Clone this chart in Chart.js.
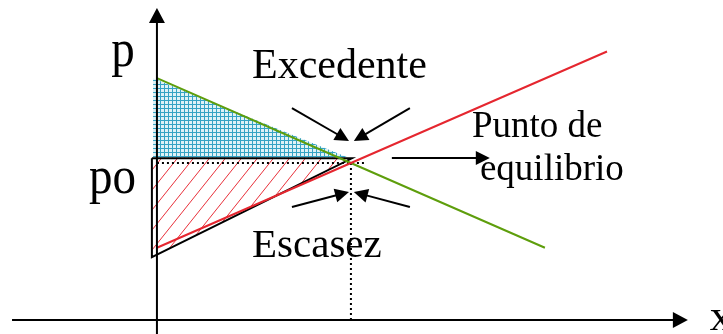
<!DOCTYPE html>
<html>
<head>
<meta charset="utf-8">
<script src="https://cdn.jsdelivr.net/npm/chart.js@4.4.0/dist/chart.umd.min.js"></script>
<style>
  html, body { margin: 0; padding: 0; background: #fff; }
  #wrap { width: 723px; height: 334px; position: relative; }
</style>
</head>
<body>
<div id="wrap"><canvas id="chart"></canvas></div>
<script>
// === Oferta y demanda: excedente / escasez ===

// Curves (x = cantidad, p = precio)
const demandX = [0, 10, 20];
const demandP = [15.4, 10, 4.6];
const supplyX = [0, 10, 23.2];
const supplyP = [4.6, 10, 17.1];

// Equilibrium point
const eqX = 10;
const eqP = 10;

// Shaded areas
const surplusX = [-0.2, -0.2, 9.85, -0.2];
const surplusP = [15.4, 10.35, 10.35, 15.4];
const shortageX = [-0.26, -0.26, 10.05, -0.26];
const shortageP = [10.3, 4.0, 10.3, 10.3];

// Guide lines (dotted)
const guideHX = [0, 10.82];
const guideVP = [0, eqP];

// Annotation arrows [fromX, fromP, toX, toP]
const arrows = [
  [6.96, 13.5, 9.9, 11.4],
  [13.04, 13.5, 10.15, 11.4],
  [6.96, 7.2, 9.9, 8.15],
  [13.04, 7.2, 10.15, 8.15],
  [12.11, 10.32, 17.16, 10.32]
];

// Text labels
const labelText = ['Excedente', 'Escasez', 'Punto de', 'equilibrio', 'p', 'po', 'x'];
const labelX = [4.9, 4.9, 16.24, 16.65, -2.35, -3.5, 28.5];
const labelP = [15.41, 4.01, 11.66, 8.92, 16.18, 8.09, -0.64];

// Axis extents
const X_MIN = -8.09, X_MAX = 29.18;
const Y_MIN = -0.89, Y_MAX = 20.38;
const xAxisFrom = -7.47, xAxisTo = 27.37;
const yAxisTip = 19.87;

// ==============================
// Helpers
// ==============================
const pts = (xs, ys) => xs.map((x, i) => ({ x, y: ys[i] }));

const gridPattern = () => {
  const c = document.createElement('canvas');
  c.width = 4; c.height = 4;
  const g = c.getContext('2d');
  g.fillStyle = '#dff2f7';
  g.fillRect(0, 0, 4, 4);
  g.fillStyle = '#35a3c4';
  g.fillRect(0, 0, 4, 1);
  g.fillRect(0, 0, 1, 4);
  return g.createPattern(c, 'repeat');
};

const hatchPattern = () => {
  const w = 16, h = 20;
  const c = document.createElement('canvas');
  c.width = w; c.height = h;
  const g = c.getContext('2d');
  g.strokeStyle = '#e8303a';
  g.lineWidth = 1;
  g.beginPath();
  g.moveTo(0, h); g.lineTo(w, 0);
  g.moveTo(-w, h); g.lineTo(0, 0);
  g.moveTo(w, h); g.lineTo(2 * w, 0);
  g.stroke();
  return g.createPattern(c, 'repeat');
};

const arrowHead = (ctx, x1, y1, x2, y2, len, half) => {
  const a = Math.atan2(y2 - y1, x2 - x1);
  ctx.beginPath();
  ctx.moveTo(x2, y2);
  ctx.lineTo(x2 - len * Math.cos(a) + half * Math.sin(a), y2 - len * Math.sin(a) - half * Math.cos(a));
  ctx.lineTo(x2 - len * Math.cos(a) - half * Math.sin(a), y2 - len * Math.sin(a) + half * Math.cos(a));
  ctx.closePath();
  ctx.fill();
};

const arrowLine = (ctx, x1, y1, x2, y2, len, half, width) => {
  const a = Math.atan2(y2 - y1, x2 - x1);
  ctx.lineWidth = width;
  ctx.beginPath();
  ctx.moveTo(x1, y1);
  ctx.lineTo(x2 - (len - 1) * Math.cos(a), y2 - (len - 1) * Math.sin(a));
  ctx.stroke();
  arrowHead(ctx, x1, y1, x2, y2, len, half);
};

// ==============================
// Plugin: axes, arrows, labels
// ==============================
const fontFor = ['42px', '41px', '37px', '37px', '47px', '47px', '45px'];
const stretchFor = [1, 1, 1, 1, 1.12, 1.12, 1];

const overlay = {
  id: 'overlay',
  afterDatasetsDraw(chart) {
    const { ctx, scales: { x, y } } = chart;
    ctx.save();
    ctx.strokeStyle = '#000';
    ctx.fillStyle = '#000';
    ctx.lineCap = 'butt';

    // axes
    const ox = x.getPixelForValue(0);
    const oy = y.getPixelForValue(0);
    arrowLine(ctx, ox, chart.height, ox, y.getPixelForValue(yAxisTip), 15, 8, 2);
    arrowLine(ctx, x.getPixelForValue(xAxisFrom), oy, x.getPixelForValue(xAxisTo), oy, 15, 8, 2);

    // annotation arrows
    arrows.forEach(([fx, fp, tx, tp]) => {
      arrowLine(ctx, x.getPixelForValue(fx), y.getPixelForValue(fp),
        x.getPixelForValue(tx), y.getPixelForValue(tp), 14, 7, 2);
    });

    // labels
    ctx.textBaseline = 'alphabetic';
    ctx.textAlign = 'left';
    labelText.forEach((t, i) => {
      ctx.save();
      ctx.font = `${fontFor[i]} "Liberation Serif", "Times New Roman", serif`;
      ctx.translate(x.getPixelForValue(labelX[i]), y.getPixelForValue(labelP[i]));
      ctx.scale(1, stretchFor[i]);
      ctx.fillText(t, 0, 0);
      ctx.restore();
    });
    ctx.restore();
  }
};

// ==============================
// Chart
// ==============================
const ctxEl = document.getElementById('chart');

new Chart(ctxEl, {
  type: 'scatter',
  data: {
    datasets: [
      {
        label: 'Excedente', data: pts(surplusX, surplusP), showLine: true,
        borderWidth: 0, borderColor: 'transparent', backgroundColor: gridPattern(),
        fill: 'shape', pointRadius: 0, order: 10
      },
      {
        label: 'Escasez', data: pts(shortageX, shortageP), showLine: true,
        borderWidth: 2, borderColor: '#000', backgroundColor: hatchPattern(),
        fill: 'shape', pointRadius: 0, order: 9
      },
      {
        label: 'guia h', data: pts(guideHX, [eqP, eqP]), showLine: true,
        borderWidth: 2, borderColor: '#000', borderDash: [2, 3], pointRadius: 0, order: 8
      },
      {
        label: 'guia v', data: pts([eqX, eqX], guideVP), showLine: true,
        borderWidth: 2, borderColor: '#000', borderDash: [2, 3], pointRadius: 0, order: 8
      },
      {
        label: 'Demanda', data: pts(demandX, demandP), showLine: true,
        borderWidth: 2, borderColor: '#5e9e0c', pointRadius: 0, order: 7
      },
      {
        label: 'Oferta', data: pts(supplyX, supplyP), showLine: true,
        borderWidth: 2, borderColor: '#e5262f', pointRadius: 0, order: 6
      }
    ]
  },
  options: {
    responsive: true,
    maintainAspectRatio: false,
    animation: false,
    layout: { padding: 0 },
    plugins: { legend: { display: false }, tooltip: { enabled: false } },
    scales: {
      x: { type: 'linear', min: X_MIN, max: X_MAX, display: false },
      y: { type: 'linear', min: Y_MIN, max: Y_MAX, display: false }
    }
  },
  plugins: [overlay]
});
</script>
</body>
</html>
